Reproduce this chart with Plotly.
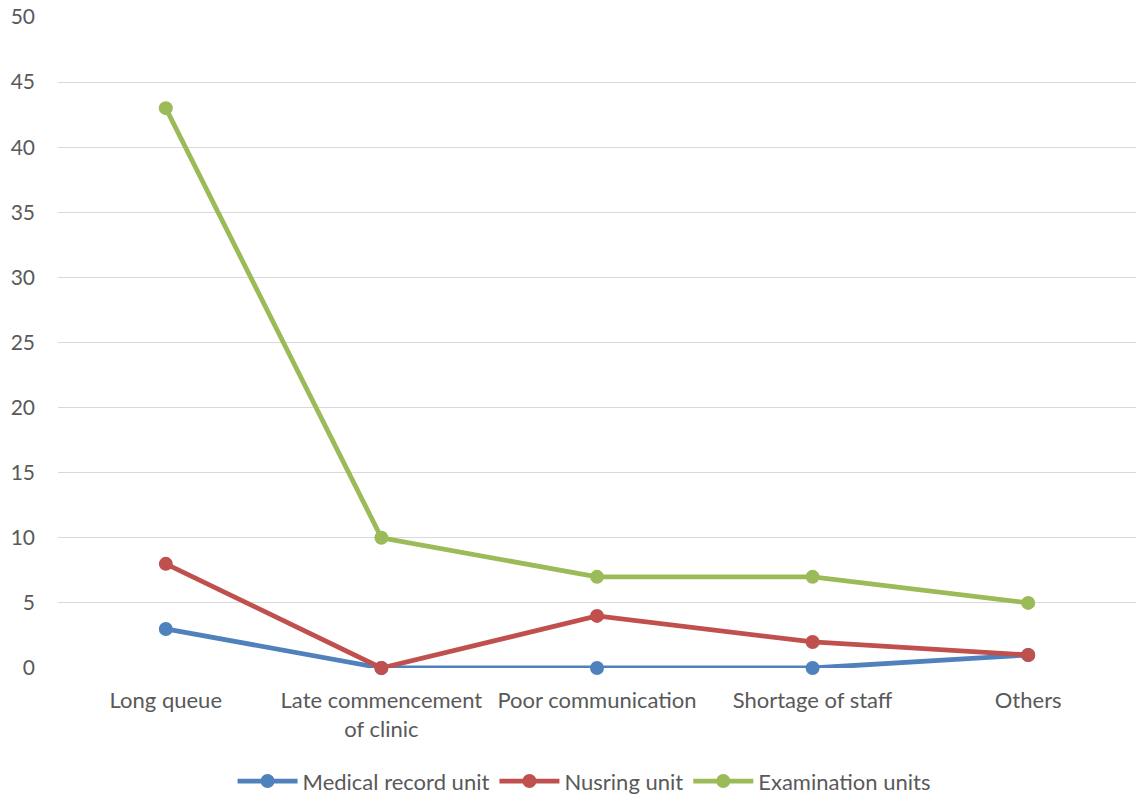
import plotly.graph_objects as go

categories = ["Long queue", "Late commencement<br>of clinic", "Poor communication", "Shortage of staff", "Others"]
medical_record = [3, 0, 0, 0, 1]
nursing = [8, 0, 4, 2, 1]
examination = [43, 10, 7, 7, 5]

series = [
    ("Medical record unit", medical_record, "#4F81BD"),
    ("Nusring unit", nursing, "#C0504D"),
    ("Examination units", examination, "#9BBB59"),
]

fig = go.Figure()
for name, vals, color in series:
    fig.add_trace(go.Scatter(
        x=list(range(len(categories))), y=vals, name=name, mode="lines+markers",
        line=dict(color=color, width=4.8),
        marker=dict(color=color, size=14),
        cliponaxis=False,
    ))

font = "Lato, Open Sans, Liberation Sans, sans-serif"
fig.update_layout(
    width=1136, height=810,
    margin=dict(l=58, r=0, t=17, b=142),
    paper_bgcolor="white", plot_bgcolor="white",
    font=dict(family=font, size=22, color="#595959"),
    showlegend=True,
    legend=dict(orientation="h", x=0.488, xanchor="center", y=-0.174, yanchor="middle",
                font=dict(size=22, color="#595959"), itemwidth=60, tracegroupgap=0),
    xaxis=dict(
        tickmode="array", tickvals=list(range(len(categories))), ticktext=categories,
        range=[-0.5, 4.5], showgrid=False, zeroline=False, showline=False,
        tickfont=dict(size=22, color="#595959"), ticks="", ticklabelstandoff=17,
    ),
    yaxis=dict(
        range=[0, 50], dtick=5, showgrid=True, gridcolor="#D9D9D9", gridwidth=1.3,
        zeroline=False, showline=False, tickfont=dict(size=21, color="#595959"),
        ticks="", ticklabelstandoff=22,
    ),
)
fig.write_html("out.html")
